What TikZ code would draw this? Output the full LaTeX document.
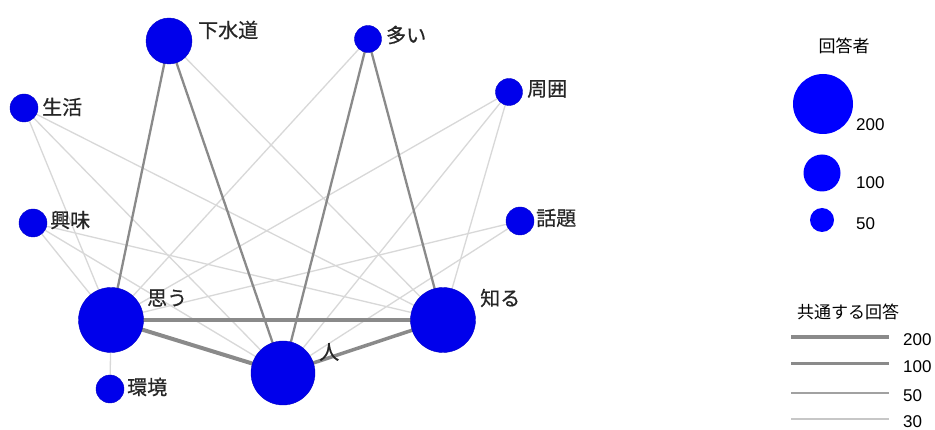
\documentclass[tikz,border=0pt]{standalone}
\usepackage{fontspec}
\setmainfont{Liberation Sans}
\newfontfamily\jp[FakeBold=0.6]{Noto Sans CJK JP}
\newfontfamily\jpl{Noto Sans CJK JP}
\usetikzlibrary{backgrounds}
\definecolor{nblue}{RGB}{0,0,235}
\definecolor{weakc}{RGB}{216,216,216}
\definecolor{strongc}{RGB}{138,138,138}
\begin{document}
\begin{tikzpicture}[x=1pt,y=-1pt,
  wnode/.style={circle,fill=nblue,draw=nblue!85!black,line width=0.4pt,inner sep=0pt,minimum size=#1},
  lbl/.style={font=\jp\fontsize{20}{20}\selectfont,text=black!85,anchor=west,inner sep=0pt},
  ttl/.style={font=\jpl\fontsize{17}{17}\selectfont,inner sep=0pt},
  num/.style={font=\fontsize{17}{17}\selectfont,anchor=west,inner sep=0pt},
  weak/.style={draw=weakc,line width=1.3pt},
  mid/.style={draw=strongc,line width=2.3pt},
  strong/.style={draw=strongc,line width=4pt},
]
\useasboundingbox (0,0) rectangle (935,430);

% nodes
\node[wnode=46pt] (gesui) at (169,41) {};
\node[wnode=27pt] (ooi) at (368,39) {};
\node[wnode=27pt] (shui) at (509,92) {};
\node[wnode=28pt] (seikatsu) at (24,108) {};
\node[wnode=28pt] (kyomi) at (33,223) {};
\node[wnode=28pt] (wadai) at (520,221) {};
\node[wnode=65pt] (omou) at (111,320) {};
\node[wnode=65pt] (shiru) at (443,320) {};
\node[wnode=64pt] (hito) at (283,373) {};
\node[wnode=28pt] (kankyo) at (110,389) {};

% labels
\node[lbl] (lgesui) at (198,30) {下水道};
\node[lbl] (looi) at (386,35) {多い};
\node[lbl] (lshui) at (527,89) {周囲};
\node[lbl] (lseikatsu) at (42,107) {生活};
\node[lbl] (lkyomi) at (50,220) {興味};
\node[lbl] (lwadai) at (536,218) {話題};
\node[lbl] (lomou) at (147,298) {思う};
\node[lbl] (lshiru) at (480,298) {知る};
\node[lbl] (lhito) at (319,352) {人};
\node[lbl] (lkankyo) at (127,387) {環境};

% edges
\begin{scope}[on background layer]
  \fill[white] (0,0) rectangle (935,430);
  \foreach \a in {seikatsu,kyomi,shui}{
    \draw[weak] (\a.center) -- (omou.center);
    \draw[weak] (\a.center) -- (hito.center);
    \draw[weak] (\a.center) -- (shiru.center);
  }
  \draw[weak] (wadai.center) -- (omou.center);
  \draw[weak] (wadai.center) -- (hito.center);
  \draw[weak] (kankyo.center) -- (omou.center);
  \draw[weak] (gesui.center) -- (shiru.center);
  \draw[weak] (ooi.center) -- (omou.center);
  \draw[mid] (gesui.center) -- (omou.center);
  \draw[mid] (gesui.center) -- (hito.center);
  \draw[mid] (ooi.center) -- (hito.center);
  \draw[mid] (ooi.center) -- (shiru.center);
  \draw[strong] (omou.center) -- (shiru.center);
  \draw[strong] (omou.center) -- (hito.center);
  \draw[strong,line width=3.5pt] (hito.center) -- (shiru.center);
\end{scope}

% legend: respondents
\node[ttl] (t1) at (844,46) {回答者};
\node[wnode=60pt,draw=none,fill=blue] (c200) at (823,104) {};
\node[wnode=37pt,draw=none,fill=blue] (c100) at (822,173) {};
\node[wnode=24pt,draw=none,fill=blue] (c50) at (822,220) {};
\node[num] (n200) at (856,125) {200};
\node[num] (n100) at (856,183) {100};
\node[num] (n50) at (856,224) {50};

% legend: common answers
\node[ttl] (t2) at (848,312) {共通する回答};
\coordinate (a1) at (791,337); \coordinate (b1) at (889,337);
\coordinate (a2) at (791,364); \coordinate (b2) at (889,364);
\coordinate (a3) at (791,393); \coordinate (b3) at (889,393);
\coordinate (a4) at (791,419); \coordinate (b4) at (889,419);
\draw[draw=strongc,line width=4pt] (a1) -- (b1);
\draw[draw=strongc,line width=3pt] (a2) -- (b2);
\draw[draw=strongc!80,line width=1.6pt] (a3) -- (b3);
\draw[draw=black!22,line width=1.3pt] (a4) -- (b4);
\node[num] (m200) at (903,340) {200};
\node[num] (m100) at (903,367) {100};
\node[num] (m50) at (903,396) {50};
\node[num] (m30) at (903,422) {30};
\end{tikzpicture}
\end{document}
